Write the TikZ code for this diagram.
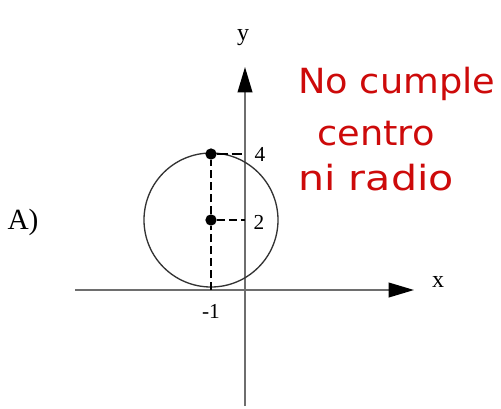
\documentclass[tikz,border=0pt]{standalone}
\usepackage{fontspec}
\setmainfont{Liberation Serif}
\newfontfamily\notefont{DejaVu Sans}
\usepackage{xcolor}
\usetikzlibrary{arrows.meta}

\definecolor{notered}{RGB}{205,10,10}
\definecolor{axisgray}{RGB}{110,110,110}

\tikzset{
  axisline/.style={draw=axisgray, line width=1.3pt, -{Triangle[length=19pt, width=11pt, color=black, fill=black]}},
  dot/.style={circle, fill=black, inner sep=0pt, minimum size=8.5pt},
  ticklbl/.style={font=\fontsize{16}{18}\selectfont},
  axislbl/.style={font=\fontsize{18}{20}\selectfont},
  note/.style={text=notered, anchor=base west, inner sep=0pt, xscale=1.06, font=\notefont\fontsize{26}{28}\selectfont}
}

\begin{document}
\begin{tikzpicture}[x=0.75pt, y=-0.75pt]
        \useasboundingbox (0,0) rectangle (501,408);

        % Axes
        \coordinate (xstart) at (75,290);
        \coordinate (xend) at (414,290);
        \coordinate (ystart) at (245,406);
        \coordinate (yend) at (245,67);
        \draw[axisline] (xstart) -- (xend);
        \draw[axisline] (ystart) -- (yend);
        \node[axislbl] (xlbl) at (438,282) {x};
        \node[axislbl] (ylbl) at (243,38) {y};

        % Circle
        \draw[line width=1pt, black!80] (211,220) circle (50.25pt);

        % Points and labels
        \node[dot] (top) at (211,154) {};
        \node[dot] (center) at (211,220) {};
        \coordinate (bottom) at (211,290);
        \coordinate (tickfour) at (245,154);
        \coordinate (ticktwo) at (245,220);
        \draw[dashed, line width=1pt, dash pattern=on 6pt off 3pt] (bottom) -- (center);
        \draw[dashed, line width=1pt, dash pattern=on 6pt off 3pt] (center) -- (top);
        \draw[dashed, line width=1pt, dash pattern=on 8pt off 3pt] (top) -- (tickfour);
        \draw[dashed, line width=1pt, dash pattern=on 6pt off 3pt] (center) -- (ticktwo);

        \node[ticklbl] (four) at (260,154) {4};
        \node[ticklbl] (two) at (259,222) {2};
        \node[ticklbl] (minusone) at (211,311) {-1};

        \node[font=\fontsize{22}{24}\selectfont] (optA) at (23,222) {A)};

        % Correction note
        \node[note] (noteone) at (298,93) {No cumple};
        \node[note] (notetwo) at (317,145) {centro};
        \node[note, xscale=1.12] (notethree) at (298,190) {ni radio};

\end{tikzpicture}
\end{document}
